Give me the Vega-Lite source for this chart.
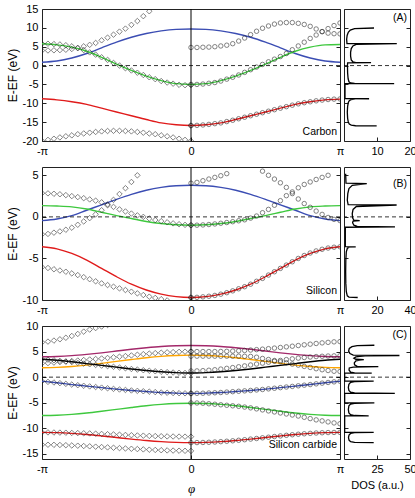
{
"$schema": "https://vega.github.io/schema/vega-lite/v6.json",
"padding": {"left": 5, "top": 2, "right": 0, "bottom": 0},
"bounds": "flush",
"columns": 2,
"spacing": {"row": 26, "column": 4},
"resolve": {"scale": {"color": "independent"}},
"config": {
 "view": {"stroke": "#222", "strokeWidth": 1},
 "font": "Liberation Sans",
 "axis": {"domain": false, "grid": false, "tickSize": -4, "tickColor": "#222", "labelPadding": 8, "labelFontSize": 11, "labelColor": "#000", "labelFont": "Liberation Sans", "titleFont": "Liberation Sans", "titleFontSize": 12, "titleFontWeight": "normal", "titleColor": "#000", "labelFlush": false, "labelOverlap": false, "labelBound": false, "titlePadding": 3},
 "text": {"font": "Liberation Sans", "fontSize": 10.5, "color": "#000"}
},
"datasets": {
 "lA": [
  {"x":-1,"y":0.9,"s":"1"},{"x":-0.9,"y":1.2,"s":"1"},{"x":-0.8,"y":2.0,"s":"1"},{"x":-0.7,"y":3.2,"s":"1"},{"x":-0.6,"y":4.7,"s":"1"},{"x":-0.5,"y":6.2,"s":"1"},{"x":-0.4,"y":7.5,"s":"1"},{"x":-0.3,"y":8.5,"s":"1"},{"x":-0.2,"y":9.2,"s":"1"},{"x":-0.1,"y":9.6,"s":"1"},{"x":0,"y":9.7,"s":"1"},{"x":0.1,"y":9.6,"s":"1"},{"x":0.2,"y":9.2,"s":"1"},{"x":0.3,"y":8.5,"s":"1"},{"x":0.4,"y":7.5,"s":"1"},{"x":0.5,"y":6.2,"s":"1"},{"x":0.6,"y":4.7,"s":"1"},{"x":0.7,"y":3.2,"s":"1"},{"x":0.8,"y":2.0,"s":"1"},{"x":0.9,"y":1.2,"s":"1"},{"x":1,"y":0.9,"s":"1"},
  {"x":-1,"y":5.8,"s":"2"},{"x":-0.9,"y":5.5,"s":"2"},{"x":-0.8,"y":4.9,"s":"2"},{"x":-0.7,"y":3.8,"s":"2"},{"x":-0.6,"y":2.2,"s":"2"},{"x":-0.5,"y":0.4,"s":"2"},{"x":-0.4,"y":-1.3,"s":"2"},{"x":-0.3,"y":-2.8,"s":"2"},{"x":-0.2,"y":-4.0,"s":"2"},{"x":-0.1,"y":-4.8,"s":"2"},{"x":0,"y":-5.0,"s":"2"},{"x":0.1,"y":-4.8,"s":"2"},{"x":0.2,"y":-4.0,"s":"2"},{"x":0.3,"y":-2.8,"s":"2"},{"x":0.4,"y":-1.3,"s":"2"},{"x":0.5,"y":0.4,"s":"2"},{"x":0.6,"y":2.2,"s":"2"},{"x":0.7,"y":3.8,"s":"2"},{"x":0.8,"y":4.9,"s":"2"},{"x":0.9,"y":5.5,"s":"2"},{"x":1,"y":5.6,"s":"2"},
  {"x":-1,"y":-8.8,"s":"3"},{"x":-0.9,"y":-9.1,"s":"3"},{"x":-0.8,"y":-9.6,"s":"3"},{"x":-0.7,"y":-10.3,"s":"3"},{"x":-0.6,"y":-11.3,"s":"3"},{"x":-0.5,"y":-12.3,"s":"3"},{"x":-0.4,"y":-13.3,"s":"3"},{"x":-0.3,"y":-14.3,"s":"3"},{"x":-0.2,"y":-15.2,"s":"3"},{"x":-0.1,"y":-15.7,"s":"3"},{"x":0,"y":-15.9,"s":"3"},{"x":0.1,"y":-15.7,"s":"3"},{"x":0.2,"y":-15.2,"s":"3"},{"x":0.3,"y":-14.3,"s":"3"},{"x":0.4,"y":-13.3,"s":"3"},{"x":0.5,"y":-12.3,"s":"3"},{"x":0.6,"y":-11.3,"s":"3"},{"x":0.7,"y":-10.3,"s":"3"},{"x":0.8,"y":-9.6,"s":"3"},{"x":0.9,"y":-9.1,"s":"3"},{"x":1,"y":-8.9,"s":"3"}
 ],
 "dA": [
  {"x":-1,"y":4.0},{"x":-0.96,"y":4.0},{"x":-0.92,"y":4.05},{"x":-0.88,"y":4.1},{"x":-0.84,"y":4.2},{"x":-0.8,"y":4.4},{"x":-0.76,"y":4.7},{"x":-0.72,"y":5.1},{"x":-0.68,"y":5.5},{"x":-0.64,"y":6.0},{"x":-0.6,"y":6.7},{"x":-0.56,"y":7.4},{"x":-0.52,"y":8.2},{"x":-0.48,"y":9.0},{"x":-0.44,"y":9.8},{"x":-0.4,"y":10.8},{"x":-0.36,"y":11.8},{"x":-0.32,"y":13.1},{"x":-0.28,"y":14.4},{"x":-0.24,"y":15.7},
  {"x":-1,"y":5.8},{"x":-0.96,"y":5.8},{"x":-0.92,"y":5.7},{"x":-0.88,"y":5.6},{"x":-0.84,"y":5.4},{"x":-0.8,"y":5.1},{"x":-0.76,"y":4.6},{"x":-0.72,"y":4.1},{"x":-0.68,"y":3.5},{"x":-0.64,"y":2.9},{"x":-0.6,"y":2.2},{"x":-0.56,"y":1.5},{"x":-0.52,"y":0.7},{"x":-0.48,"y":0.0},{"x":-0.44,"y":-0.7},{"x":-0.4,"y":-1.3},{"x":-0.36,"y":-1.9},{"x":-0.32,"y":-2.5},{"x":-0.28,"y":-3.1},{"x":-0.24,"y":-3.6},{"x":-0.2,"y":-4.1},{"x":-0.16,"y":-4.5},{"x":-0.12,"y":-4.8},{"x":-0.08,"y":-5.1},{"x":-0.04,"y":-5.2},{"x":0,"y":-5.2},
  {"x":-1,"y":-20},{"x":-0.96,"y":-19.7},{"x":-0.92,"y":-19.4},{"x":-0.88,"y":-19.05},{"x":-0.84,"y":-18.75},{"x":-0.8,"y":-18.5},{"x":-0.76,"y":-18.2},{"x":-0.72,"y":-18.0},{"x":-0.68,"y":-17.8},{"x":-0.64,"y":-17.6},{"x":-0.6,"y":-17.45},{"x":-0.56,"y":-17.35},{"x":-0.52,"y":-17.3},{"x":-0.48,"y":-17.3},{"x":-0.44,"y":-17.35},{"x":-0.4,"y":-17.45},{"x":-0.36,"y":-17.6},{"x":-0.32,"y":-17.8},{"x":-0.28,"y":-18.0},{"x":-0.24,"y":-18.2},{"x":-0.2,"y":-18.5},{"x":-0.16,"y":-18.75},{"x":-0.12,"y":-19.05},{"x":-0.08,"y":-19.4},{"x":-0.04,"y":-19.7},{"x":0,"y":-20},
  {"x":0,"y":-15.9}
 ],
 "cA": [
  {"x":0,"y":4.8},{"x":0.04,"y":4.8},{"x":0.08,"y":4.85},{"x":0.12,"y":4.9},{"x":0.16,"y":5.0},{"x":0.2,"y":5.2},{"x":0.24,"y":5.4},{"x":0.28,"y":5.8},{"x":0.32,"y":6.5},{"x":0.36,"y":7.3},{"x":0.4,"y":8.2},{"x":0.44,"y":9.1},{"x":0.48,"y":9.9},{"x":0.52,"y":10.5},{"x":0.56,"y":11.0},{"x":0.6,"y":11.3},{"x":0.64,"y":11.4},{"x":0.68,"y":11.4},{"x":0.72,"y":11.2},{"x":0.76,"y":10.9},{"x":0.8,"y":10.4},{"x":0.84,"y":9.7},{"x":0.88,"y":9.0},{"x":0.92,"y":8.6},{"x":0.96,"y":8.45},{"x":1,"y":8.4},
  {"x":0,"y":-5.0},{"x":0.04,"y":-5.0},{"x":0.08,"y":-4.9},{"x":0.12,"y":-4.7},{"x":0.16,"y":-4.5},{"x":0.2,"y":-4.1},{"x":0.24,"y":-3.6},{"x":0.28,"y":-3.1},{"x":0.32,"y":-2.5},{"x":0.36,"y":-1.8},{"x":0.4,"y":-1.1},{"x":0.44,"y":-0.4},{"x":0.48,"y":0.3},{"x":0.52,"y":1.0},{"x":0.56,"y":1.7},{"x":0.6,"y":2.4},{"x":0.64,"y":3.2},{"x":0.68,"y":4.2},{"x":0.72,"y":5.2},{"x":0.76,"y":6.2},{"x":0.8,"y":7.2},{"x":0.84,"y":8.1},{"x":0.88,"y":9.0},{"x":0.92,"y":9.8},{"x":0.96,"y":10.6},{"x":1,"y":11.3},
  {"x":0,"y":-15.9},{"x":0.04,"y":-15.85},{"x":0.08,"y":-15.75},{"x":0.12,"y":-15.6},{"x":0.16,"y":-15.4},{"x":0.2,"y":-15.2},{"x":0.24,"y":-14.85},{"x":0.28,"y":-14.5},{"x":0.32,"y":-14.1},{"x":0.36,"y":-13.7},{"x":0.4,"y":-13.3},{"x":0.44,"y":-12.9},{"x":0.48,"y":-12.5},{"x":0.52,"y":-12.1},{"x":0.56,"y":-11.7},{"x":0.6,"y":-11.3},{"x":0.64,"y":-10.9},{"x":0.68,"y":-10.5},{"x":0.72,"y":-10.15},{"x":0.76,"y":-9.85},{"x":0.8,"y":-9.6},{"x":0.84,"y":-9.35},{"x":0.88,"y":-9.15},{"x":0.92,"y":-9.0},{"x":0.96,"y":-8.9},{"x":1,"y":-8.85}
 ],
 "sA": [
  {"e":-16.0,"d":9.9},{"e":-15.95,"d":3.5},{"e":-15.8,"d":2.2},{"e":-15.5,"d":1.6},{"e":-15.0,"d":1.3},{"e":-14.0,"d":1.1},{"e":-12.4,"d":1.0},{"e":-10.8,"d":1.1},{"e":-9.8,"d":1.3},{"e":-9.3,"d":1.6},{"e":-9.0,"d":2.2},{"e":-8.85,"d":3.5},{"e":-8.8,"d":7.6},{"e":-8.79,"d":0.3},{"e":-4.81,"d":0.3},{"e":-4.8,"d":15.2},{"e":-4.75,"d":3.2},{"e":-4.6,"d":2.0},{"e":-4.3,"d":1.5},{"e":-3.5,"d":1.25},{"e":-2.0,"d":1.1},{"e":0.0,"d":1.05},{"e":0.7,"d":1.1},{"e":0.76,"d":8.2},{"e":0.8,"d":3.6},{"e":1.0,"d":2.7},{"e":1.5,"d":2.2},{"e":2.5,"d":2.0},{"e":3.5,"d":2.0},{"e":4.5,"d":2.2},{"e":5.2,"d":2.7},{"e":5.6,"d":3.7},{"e":5.8,"d":16.0},{"e":5.85,"d":0.9},{"e":7.0,"d":0.8},{"e":8.0,"d":0.95},{"e":8.8,"d":1.3},{"e":9.4,"d":1.9},{"e":9.8,"d":3.2},{"e":9.96,"d":9.1}
 ],
 "lB": [
  {"x":-1,"y":-0.45,"s":"1"},{"x":-0.9,"y":-0.25,"s":"1"},{"x":-0.8,"y":0.15,"s":"1"},{"x":-0.7,"y":0.8,"s":"1"},{"x":-0.6,"y":1.45,"s":"1"},{"x":-0.5,"y":2.1,"s":"1"},{"x":-0.4,"y":2.7,"s":"1"},{"x":-0.3,"y":3.2,"s":"1"},{"x":-0.2,"y":3.55,"s":"1"},{"x":-0.1,"y":3.75,"s":"1"},{"x":0,"y":3.8,"s":"1"},{"x":0.1,"y":3.75,"s":"1"},{"x":0.2,"y":3.55,"s":"1"},{"x":0.3,"y":3.2,"s":"1"},{"x":0.4,"y":2.7,"s":"1"},{"x":0.5,"y":2.1,"s":"1"},{"x":0.6,"y":1.45,"s":"1"},{"x":0.7,"y":0.8,"s":"1"},{"x":0.8,"y":0.15,"s":"1"},{"x":0.9,"y":-0.25,"s":"1"},{"x":1,"y":-0.45,"s":"1"},
  {"x":-1,"y":1.35,"s":"2"},{"x":-0.9,"y":1.3,"s":"2"},{"x":-0.8,"y":1.2,"s":"2"},{"x":-0.7,"y":0.95,"s":"2"},{"x":-0.6,"y":0.55,"s":"2"},{"x":-0.5,"y":0.15,"s":"2"},{"x":-0.4,"y":-0.2,"s":"2"},{"x":-0.3,"y":-0.55,"s":"2"},{"x":-0.2,"y":-0.8,"s":"2"},{"x":-0.1,"y":-0.95,"s":"2"},{"x":0,"y":-1.0,"s":"2"},{"x":0.1,"y":-0.95,"s":"2"},{"x":0.2,"y":-0.8,"s":"2"},{"x":0.3,"y":-0.55,"s":"2"},{"x":0.4,"y":-0.2,"s":"2"},{"x":0.5,"y":0.15,"s":"2"},{"x":0.6,"y":0.55,"s":"2"},{"x":0.7,"y":0.95,"s":"2"},{"x":0.8,"y":1.2,"s":"2"},{"x":0.9,"y":1.3,"s":"2"},{"x":1,"y":1.35,"s":"2"},
  {"x":-1,"y":-3.6,"s":"3"},{"x":-0.9,"y":-3.85,"s":"3"},{"x":-0.8,"y":-4.4,"s":"3"},{"x":-0.7,"y":-5.2,"s":"3"},{"x":-0.6,"y":-6.2,"s":"3"},{"x":-0.5,"y":-7.2,"s":"3"},{"x":-0.4,"y":-8.1,"s":"3"},{"x":-0.3,"y":-8.8,"s":"3"},{"x":-0.2,"y":-9.3,"s":"3"},{"x":-0.1,"y":-9.6,"s":"3"},{"x":0,"y":-9.7,"s":"3"},{"x":0.1,"y":-9.6,"s":"3"},{"x":0.2,"y":-9.3,"s":"3"},{"x":0.3,"y":-8.8,"s":"3"},{"x":0.4,"y":-8.1,"s":"3"},{"x":0.5,"y":-7.2,"s":"3"},{"x":0.6,"y":-6.2,"s":"3"},{"x":0.7,"y":-5.2,"s":"3"},{"x":0.8,"y":-4.4,"s":"3"},{"x":0.9,"y":-3.85,"s":"3"},{"x":1,"y":-3.6,"s":"3"}
 ],
 "dB": [
  {"x":-1,"y":2.85},{"x":-0.96,"y":2.83},{"x":-0.92,"y":2.78},{"x":-0.88,"y":2.72},{"x":-0.84,"y":2.62},{"x":-0.8,"y":2.5},{"x":-0.76,"y":2.38},{"x":-0.72,"y":2.25},{"x":-0.68,"y":2.1},{"x":-0.64,"y":1.95},{"x":-0.6,"y":1.75},{"x":-0.56,"y":1.5},{"x":-0.52,"y":1.2},{"x":-0.48,"y":0.9},{"x":-0.44,"y":0.65},{"x":-0.4,"y":0.4},{"x":-0.36,"y":0.18},{"x":-0.32,"y":0.0},{"x":-0.28,"y":-0.2},{"x":-0.24,"y":-0.38},{"x":-0.2,"y":-0.52},{"x":-0.16,"y":-0.65},{"x":-0.12,"y":-0.78},{"x":-0.08,"y":-0.88},{"x":-0.04,"y":-0.96},{"x":0,"y":-1.0},
  {"x":-1,"y":-2.1},{"x":-0.96,"y":-2.05},{"x":-0.92,"y":-1.9},{"x":-0.88,"y":-1.75},{"x":-0.84,"y":-1.55},{"x":-0.8,"y":-1.3},{"x":-0.76,"y":-0.95},{"x":-0.72,"y":-0.55},{"x":-0.68,"y":-0.15},{"x":-0.64,"y":0.3},{"x":-0.6,"y":0.8},{"x":-0.56,"y":1.4},{"x":-0.52,"y":2.05},{"x":-0.48,"y":2.75},{"x":-0.44,"y":3.45},{"x":-0.4,"y":4.2},{"x":-0.36,"y":5.0},
  {"x":-1,"y":-6.05},{"x":-0.96,"y":-6.15},{"x":-0.92,"y":-6.3},{"x":-0.88,"y":-6.45},{"x":-0.84,"y":-6.6},{"x":-0.8,"y":-6.8},{"x":-0.76,"y":-7.0},{"x":-0.72,"y":-7.25},{"x":-0.68,"y":-7.5},{"x":-0.64,"y":-7.75},{"x":-0.6,"y":-8.0},{"x":-0.56,"y":-8.2},{"x":-0.52,"y":-8.4},{"x":-0.48,"y":-8.6},{"x":-0.44,"y":-8.8},{"x":-0.4,"y":-9.0},{"x":-0.36,"y":-9.2},{"x":-0.32,"y":-9.4},{"x":-0.28,"y":-9.6},{"x":-0.24,"y":-9.75},{"x":-0.2,"y":-9.9},{"x":-0.16,"y":-10.05},
  {"x":0,"y":-9.7}
 ],
 "cB": [
  {"x":0,"y":4.05},{"x":0.04,"y":4.15},{"x":0.08,"y":4.35},{"x":0.12,"y":4.55},{"x":0.16,"y":4.75},{"x":0.2,"y":4.95},{"x":0.24,"y":5.2},
  {"x":0.48,"y":5.5},{"x":0.52,"y":5.0},{"x":0.56,"y":4.55},{"x":0.6,"y":4.1},{"x":0.64,"y":3.55},{"x":0.68,"y":2.8},{"x":0.72,"y":2.15},{"x":0.76,"y":1.6},{"x":0.8,"y":1.15},{"x":0.84,"y":0.7},{"x":0.88,"y":0.3},{"x":0.92,"y":-0.07},{"x":0.96,"y":-0.3},{"x":1,"y":-0.45},
  {"x":0,"y":-1.0},{"x":0.04,"y":-1.0},{"x":0.08,"y":-0.97},{"x":0.12,"y":-0.92},{"x":0.16,"y":-0.85},{"x":0.2,"y":-0.77},{"x":0.24,"y":-0.68},{"x":0.28,"y":-0.58},{"x":0.32,"y":-0.47},{"x":0.36,"y":-0.35},{"x":0.4,"y":-0.15},{"x":0.44,"y":0.1},{"x":0.48,"y":0.5},{"x":0.52,"y":0.9},{"x":0.56,"y":1.4},{"x":0.6,"y":1.95},{"x":0.64,"y":2.55},{"x":0.68,"y":3.0},{"x":0.72,"y":3.5},{"x":0.76,"y":3.9},{"x":0.8,"y":4.2},{"x":0.84,"y":4.5},{"x":0.88,"y":4.75},{"x":0.92,"y":5.0},
  {"x":0,"y":-9.7},{"x":0.04,"y":-9.68},{"x":0.08,"y":-9.62},{"x":0.12,"y":-9.55},{"x":0.16,"y":-9.45},{"x":0.2,"y":-9.3},{"x":0.24,"y":-9.12},{"x":0.28,"y":-8.9},{"x":0.32,"y":-8.65},{"x":0.36,"y":-8.4},{"x":0.4,"y":-8.1},{"x":0.44,"y":-7.75},{"x":0.48,"y":-7.4},{"x":0.52,"y":-7.0},{"x":0.56,"y":-6.6},{"x":0.6,"y":-6.2},{"x":0.64,"y":-5.8},{"x":0.68,"y":-5.4},{"x":0.72,"y":-5.0},{"x":0.76,"y":-4.65},{"x":0.8,"y":-4.35},{"x":0.84,"y":-4.1},{"x":0.88,"y":-3.9},{"x":0.92,"y":-3.75},{"x":0.96,"y":-3.65},{"x":1,"y":-3.6}
 ],
 "sB": [
  {"e":-9.7,"d":8.3},{"e":-9.65,"d":3.0},{"e":-9.5,"d":2.0},{"e":-9.0,"d":1.4},{"e":-8.0,"d":1.1},{"e":-6.6,"d":1.0},{"e":-5.2,"d":1.1},{"e":-4.2,"d":1.4},{"e":-3.8,"d":2.0},{"e":-3.65,"d":3.0},{"e":-3.6,"d":7.1},{"e":-3.59,"d":0.8},{"e":-1.25,"d":0.8},{"e":-1.2,"d":30.9},{"e":-1.15,"d":8.0},{"e":-1.0,"d":6.0},{"e":-0.7,"d":5.2},{"e":-0.5,"d":5.5},{"e":-0.45,"d":9.5},{"e":-0.4,"d":6.0},{"e":-0.1,"d":5.2},{"e":0.4,"d":5.0},{"e":0.9,"d":5.5},{"e":1.25,"d":7.5},{"e":1.43,"d":31.9},{"e":1.48,"d":2.5},{"e":2.0,"d":2.0},{"e":2.8,"d":2.3},{"e":3.4,"d":3.0},{"e":3.8,"d":5.0},{"e":3.99,"d":13.8},{"e":4.05,"d":1.2},{"e":5.2,"d":1.0}
 ],
 "lC": [
  {"x":-1,"y":4.0,"s":"1"},{"x":-0.9,"y":4.05,"s":"1"},{"x":-0.8,"y":4.2,"s":"1"},{"x":-0.7,"y":4.45,"s":"1"},{"x":-0.6,"y":4.75,"s":"1"},{"x":-0.5,"y":5.1,"s":"1"},{"x":-0.4,"y":5.45,"s":"1"},{"x":-0.3,"y":5.75,"s":"1"},{"x":-0.2,"y":6.0,"s":"1"},{"x":-0.1,"y":6.15,"s":"1"},{"x":0,"y":6.2,"s":"1"},{"x":0.1,"y":6.15,"s":"1"},{"x":0.2,"y":6.0,"s":"1"},{"x":0.3,"y":5.75,"s":"1"},{"x":0.4,"y":5.45,"s":"1"},{"x":0.5,"y":5.1,"s":"1"},{"x":0.6,"y":4.75,"s":"1"},{"x":0.7,"y":4.45,"s":"1"},{"x":0.8,"y":4.2,"s":"1"},{"x":0.9,"y":4.05,"s":"1"},{"x":1,"y":4.0,"s":"1"},
  {"x":-1,"y":1.85,"s":"2"},{"x":-0.9,"y":1.91,"s":"2"},{"x":-0.8,"y":2.08,"s":"2"},{"x":-0.7,"y":2.35,"s":"2"},{"x":-0.6,"y":2.7,"s":"2"},{"x":-0.5,"y":3.08,"s":"2"},{"x":-0.4,"y":3.45,"s":"2"},{"x":-0.3,"y":3.8,"s":"2"},{"x":-0.2,"y":4.07,"s":"2"},{"x":-0.1,"y":4.24,"s":"2"},{"x":0,"y":4.3,"s":"2"},{"x":0.1,"y":4.24,"s":"2"},{"x":0.2,"y":4.07,"s":"2"},{"x":0.3,"y":3.8,"s":"2"},{"x":0.4,"y":3.45,"s":"2"},{"x":0.5,"y":3.08,"s":"2"},{"x":0.6,"y":2.7,"s":"2"},{"x":0.7,"y":2.35,"s":"2"},{"x":0.8,"y":2.08,"s":"2"},{"x":0.9,"y":1.91,"s":"2"},{"x":1,"y":1.85,"s":"2"},
  {"x":-1,"y":3.5,"s":"3"},{"x":-0.9,"y":3.3,"s":"3"},{"x":-0.8,"y":3.0,"s":"3"},{"x":-0.7,"y":2.65,"s":"3"},{"x":-0.6,"y":2.3,"s":"3"},{"x":-0.5,"y":1.95,"s":"3"},{"x":-0.4,"y":1.6,"s":"3"},{"x":-0.3,"y":1.3,"s":"3"},{"x":-0.2,"y":1.05,"s":"3"},{"x":-0.1,"y":0.88,"s":"3"},{"x":0,"y":0.8,"s":"3"},{"x":0.1,"y":0.88,"s":"3"},{"x":0.2,"y":1.05,"s":"3"},{"x":0.3,"y":1.3,"s":"3"},{"x":0.4,"y":1.6,"s":"3"},{"x":0.5,"y":1.95,"s":"3"},{"x":0.6,"y":2.3,"s":"3"},{"x":0.7,"y":2.65,"s":"3"},{"x":0.8,"y":3.0,"s":"3"},{"x":0.9,"y":3.3,"s":"3"},{"x":1,"y":3.5,"s":"3"},
  {"x":-1,"y":-0.8,"s":"4"},{"x":-0.9,"y":-1.1,"s":"4"},{"x":-0.8,"y":-1.45,"s":"4"},{"x":-0.7,"y":-1.75,"s":"4"},{"x":-0.6,"y":-2.05,"s":"4"},{"x":-0.5,"y":-2.35,"s":"4"},{"x":-0.4,"y":-2.6,"s":"4"},{"x":-0.3,"y":-2.8,"s":"4"},{"x":-0.2,"y":-3.0,"s":"4"},{"x":-0.1,"y":-3.12,"s":"4"},{"x":0,"y":-3.18,"s":"4"},{"x":0.1,"y":-3.12,"s":"4"},{"x":0.2,"y":-3.0,"s":"4"},{"x":0.3,"y":-2.8,"s":"4"},{"x":0.4,"y":-2.6,"s":"4"},{"x":0.5,"y":-2.35,"s":"4"},{"x":0.6,"y":-2.05,"s":"4"},{"x":0.7,"y":-1.75,"s":"4"},{"x":0.8,"y":-1.45,"s":"4"},{"x":0.9,"y":-1.1,"s":"4"},{"x":1,"y":-0.8,"s":"4"},
  {"x":-1,"y":-7.5,"s":"5"},{"x":-0.9,"y":-7.44,"s":"5"},{"x":-0.8,"y":-7.27,"s":"5"},{"x":-0.7,"y":-7.01,"s":"5"},{"x":-0.6,"y":-6.67,"s":"5"},{"x":-0.5,"y":-6.3,"s":"5"},{"x":-0.4,"y":-5.93,"s":"5"},{"x":-0.3,"y":-5.59,"s":"5"},{"x":-0.2,"y":-5.33,"s":"5"},{"x":-0.1,"y":-5.16,"s":"5"},{"x":0,"y":-5.1,"s":"5"},{"x":0.1,"y":-5.16,"s":"5"},{"x":0.2,"y":-5.33,"s":"5"},{"x":0.3,"y":-5.59,"s":"5"},{"x":0.4,"y":-5.93,"s":"5"},{"x":0.5,"y":-6.3,"s":"5"},{"x":0.6,"y":-6.67,"s":"5"},{"x":0.7,"y":-7.01,"s":"5"},{"x":0.8,"y":-7.27,"s":"5"},{"x":0.9,"y":-7.44,"s":"5"},{"x":1,"y":-7.5,"s":"5"},
  {"x":-1,"y":-10.8,"s":"6"},{"x":-0.9,"y":-10.85,"s":"6"},{"x":-0.8,"y":-10.99,"s":"6"},{"x":-0.7,"y":-11.21,"s":"6"},{"x":-0.6,"y":-11.49,"s":"6"},{"x":-0.5,"y":-11.8,"s":"6"},{"x":-0.4,"y":-12.11,"s":"6"},{"x":-0.3,"y":-12.39,"s":"6"},{"x":-0.2,"y":-12.61,"s":"6"},{"x":-0.1,"y":-12.75,"s":"6"},{"x":0,"y":-12.8,"s":"6"},{"x":0.1,"y":-12.75,"s":"6"},{"x":0.2,"y":-12.61,"s":"6"},{"x":0.3,"y":-12.39,"s":"6"},{"x":0.4,"y":-12.11,"s":"6"},{"x":0.5,"y":-11.8,"s":"6"},{"x":0.6,"y":-11.49,"s":"6"},{"x":0.7,"y":-11.21,"s":"6"},{"x":0.8,"y":-10.99,"s":"6"},{"x":0.9,"y":-10.85,"s":"6"},{"x":1,"y":-10.8,"s":"6"}
 ],
 "dC": [
  {"x":-1,"y":6.8},{"x":-0.96,"y":6.95},{"x":-0.92,"y":7.15},{"x":-0.88,"y":7.4},{"x":-0.84,"y":7.7},{"x":-0.8,"y":8.05},{"x":-0.76,"y":8.45},{"x":-0.72,"y":8.9},{"x":-0.68,"y":9.3},{"x":-0.64,"y":9.6},{"x":-0.6,"y":9.9},{"x":-0.56,"y":10.2},
  {"x":-1,"y":2.7},{"x":-0.96,"y":2.75},{"x":-0.92,"y":2.85},{"x":-0.88,"y":2.95},{"x":-0.84,"y":3.05},{"x":-0.8,"y":3.15},{"x":-0.76,"y":3.25},{"x":-0.72,"y":3.35},{"x":-0.68,"y":3.45},{"x":-0.64,"y":3.55},{"x":-0.6,"y":3.65},{"x":-0.56,"y":3.75},{"x":-0.52,"y":3.88},{"x":-0.48,"y":4.0},{"x":-0.44,"y":4.12},{"x":-0.4,"y":4.25},{"x":-0.36,"y":4.38},{"x":-0.32,"y":4.5},{"x":-0.28,"y":4.6},{"x":-0.24,"y":4.7},{"x":-0.2,"y":4.78},{"x":-0.16,"y":4.85},{"x":-0.12,"y":4.9},{"x":-0.08,"y":4.95},{"x":-0.04,"y":4.98},{"x":0,"y":5.0},
  {"x":-1,"y":3.5},{"x":-0.96,"y":3.42},{"x":-0.92,"y":3.3},{"x":-0.88,"y":3.18},{"x":-0.84,"y":3.06},{"x":-0.8,"y":2.95},{"x":-0.76,"y":2.8},{"x":-0.72,"y":2.66},{"x":-0.68,"y":2.52},{"x":-0.64,"y":2.38},{"x":-0.6,"y":2.26},{"x":-0.56,"y":2.16},{"x":-0.52,"y":2.02},{"x":-0.48,"y":1.88},{"x":-0.44,"y":1.74},{"x":-0.4,"y":1.6},{"x":-0.36,"y":1.48},{"x":-0.32,"y":1.36},{"x":-0.28,"y":1.25},{"x":-0.24,"y":1.15},{"x":-0.2,"y":1.05},{"x":-0.16,"y":0.98},{"x":-0.12,"y":0.91},{"x":-0.08,"y":0.86},{"x":-0.04,"y":0.82},{"x":0,"y":0.8},
  {"x":-1,"y":-0.8},{"x":-0.96,"y":-0.92},{"x":-0.92,"y":-1.04},{"x":-0.88,"y":-1.17},{"x":-0.84,"y":-1.31},{"x":-0.8,"y":-1.45},{"x":-0.76,"y":-1.57},{"x":-0.72,"y":-1.69},{"x":-0.68,"y":-1.81},{"x":-0.64,"y":-1.93},{"x":-0.6,"y":-2.05},{"x":-0.56,"y":-2.17},{"x":-0.52,"y":-2.29},{"x":-0.48,"y":-2.41},{"x":-0.44,"y":-2.5},{"x":-0.4,"y":-2.6},{"x":-0.36,"y":-2.68},{"x":-0.32,"y":-2.76},{"x":-0.28,"y":-2.84},{"x":-0.24,"y":-2.92},{"x":-0.2,"y":-3.0},{"x":-0.16,"y":-3.05},{"x":-0.12,"y":-3.1},{"x":-0.08,"y":-3.14},{"x":-0.04,"y":-3.16},{"x":0,"y":-3.18},
  {"x":-1,"y":-10.8},{"x":-0.96,"y":-10.8},{"x":-0.92,"y":-10.82},{"x":-0.88,"y":-10.84},{"x":-0.84,"y":-10.86},{"x":-0.8,"y":-10.9},{"x":-0.76,"y":-10.93},{"x":-0.72,"y":-10.97},{"x":-0.68,"y":-11.0},{"x":-0.64,"y":-11.05},{"x":-0.6,"y":-11.1},{"x":-0.56,"y":-11.15},{"x":-0.52,"y":-11.2},{"x":-0.48,"y":-11.25},{"x":-0.44,"y":-11.3},{"x":-0.4,"y":-11.35},{"x":-0.36,"y":-11.4},{"x":-0.32,"y":-11.44},{"x":-0.28,"y":-11.48},{"x":-0.24,"y":-11.52},{"x":-0.2,"y":-11.55},{"x":-0.16,"y":-11.58},{"x":-0.12,"y":-11.6},{"x":-0.08,"y":-11.62},{"x":-0.04,"y":-11.63},{"x":0,"y":-11.64},
  {"x":-1,"y":-13.2},{"x":-0.96,"y":-13.21},{"x":-0.92,"y":-13.23},{"x":-0.88,"y":-13.26},{"x":-0.84,"y":-13.3},{"x":-0.8,"y":-13.35},{"x":-0.76,"y":-13.4},{"x":-0.72,"y":-13.46},{"x":-0.68,"y":-13.52},{"x":-0.64,"y":-13.59},{"x":-0.6,"y":-13.66},{"x":-0.56,"y":-13.73},{"x":-0.52,"y":-13.8},{"x":-0.48,"y":-13.87},{"x":-0.44,"y":-13.94},{"x":-0.4,"y":-14.0},{"x":-0.36,"y":-14.06},{"x":-0.32,"y":-14.12},{"x":-0.28,"y":-14.18},{"x":-0.24,"y":-14.23},{"x":-0.2,"y":-14.28},{"x":-0.16,"y":-14.32},{"x":-0.12,"y":-14.35},{"x":-0.08,"y":-14.38},{"x":-0.04,"y":-14.4},{"x":0,"y":-14.42}
 ],
 "cC": [
  {"x":0,"y":5.0},{"x":0.04,"y":5.0},{"x":0.08,"y":5.0},{"x":0.12,"y":5.0},{"x":0.16,"y":5.0},{"x":0.2,"y":5.02},{"x":0.24,"y":5.05},{"x":0.28,"y":5.1},{"x":0.32,"y":5.15},{"x":0.36,"y":5.22},{"x":0.4,"y":5.3},{"x":0.44,"y":5.38},{"x":0.48,"y":5.47},{"x":0.52,"y":5.57},{"x":0.56,"y":5.68},{"x":0.6,"y":5.8},{"x":0.64,"y":5.92},{"x":0.68,"y":6.05},{"x":0.72,"y":6.18},{"x":0.76,"y":6.32},{"x":0.8,"y":6.45},{"x":0.84,"y":6.58},{"x":0.88,"y":6.7},{"x":0.92,"y":6.8},{"x":0.96,"y":6.9},{"x":1,"y":6.95},
  {"x":0,"y":4.1},{"x":0.04,"y":4.1},{"x":0.08,"y":4.1},{"x":0.12,"y":4.1},{"x":0.16,"y":4.1},{"x":0.2,"y":4.1},{"x":0.24,"y":4.1},{"x":0.28,"y":4.1},{"x":0.32,"y":4.1},{"x":0.36,"y":4.08},{"x":0.4,"y":4.05},{"x":0.44,"y":3.9},{"x":0.48,"y":3.65},{"x":0.52,"y":3.45},{"x":0.56,"y":3.25},{"x":0.6,"y":3.0},{"x":0.64,"y":2.8},{"x":0.68,"y":2.55},{"x":0.72,"y":2.35},{"x":0.76,"y":2.1},{"x":0.8,"y":1.9},{"x":0.84,"y":1.65},{"x":0.88,"y":1.45},{"x":0.92,"y":1.3},{"x":0.96,"y":1.15},{"x":1,"y":1.1},
  {"x":0,"y":1.2},{"x":0.04,"y":1.22},{"x":0.08,"y":1.27},{"x":0.12,"y":1.35},{"x":0.16,"y":1.45},{"x":0.2,"y":1.58},{"x":0.24,"y":1.72},{"x":0.28,"y":1.87},{"x":0.32,"y":2.03},{"x":0.36,"y":2.2},{"x":0.4,"y":2.38},{"x":0.44,"y":2.56},{"x":0.48,"y":2.74},{"x":0.52,"y":2.92},{"x":0.56,"y":3.1},{"x":0.6,"y":3.27},{"x":0.64,"y":3.43},{"x":0.68,"y":3.58},{"x":0.72,"y":3.72},{"x":0.76,"y":3.84},{"x":0.8,"y":3.94},{"x":0.84,"y":4.02},{"x":0.88,"y":4.08},{"x":0.92,"y":4.13},{"x":0.96,"y":4.16},{"x":1,"y":4.18},
  {"x":0,"y":-3.18},{"x":0.04,"y":-3.16},{"x":0.08,"y":-3.14},{"x":0.12,"y":-3.1},{"x":0.16,"y":-3.05},{"x":0.2,"y":-3.0},{"x":0.24,"y":-2.92},{"x":0.28,"y":-2.84},{"x":0.32,"y":-2.76},{"x":0.36,"y":-2.68},{"x":0.4,"y":-2.6},{"x":0.44,"y":-2.5},{"x":0.48,"y":-2.41},{"x":0.52,"y":-2.29},{"x":0.56,"y":-2.17},{"x":0.6,"y":-2.05},{"x":0.64,"y":-1.93},{"x":0.68,"y":-1.81},{"x":0.72,"y":-1.69},{"x":0.76,"y":-1.57},{"x":0.8,"y":-1.45},{"x":0.84,"y":-1.31},{"x":0.88,"y":-1.17},{"x":0.92,"y":-1.04},{"x":0.96,"y":-0.92},{"x":1,"y":-0.8},
  {"x":0,"y":-5.05},{"x":0.04,"y":-5.05},{"x":0.08,"y":-5.1},{"x":0.12,"y":-5.2},{"x":0.16,"y":-5.3},{"x":0.2,"y":-5.4},{"x":0.24,"y":-5.5},{"x":0.28,"y":-5.6},{"x":0.32,"y":-5.7},{"x":0.36,"y":-5.85},{"x":0.4,"y":-6.0},{"x":0.44,"y":-6.2},{"x":0.48,"y":-6.4},{"x":0.52,"y":-6.6},{"x":0.56,"y":-6.8},{"x":0.6,"y":-7.0},{"x":0.64,"y":-7.2},{"x":0.68,"y":-7.4},{"x":0.72,"y":-7.6},{"x":0.76,"y":-7.85},{"x":0.8,"y":-8.1},{"x":0.84,"y":-8.35},{"x":0.88,"y":-8.55},{"x":0.92,"y":-8.75},{"x":0.96,"y":-8.95},{"x":1,"y":-9.1},
  {"x":0,"y":-12.8},{"x":0.04,"y":-12.79},{"x":0.08,"y":-12.77},{"x":0.12,"y":-12.73},{"x":0.16,"y":-12.68},{"x":0.2,"y":-12.61},{"x":0.24,"y":-12.53},{"x":0.28,"y":-12.44},{"x":0.32,"y":-12.34},{"x":0.36,"y":-12.23},{"x":0.4,"y":-12.11},{"x":0.44,"y":-11.99},{"x":0.48,"y":-11.86},{"x":0.52,"y":-11.74},{"x":0.56,"y":-11.61},{"x":0.6,"y":-11.49},{"x":0.64,"y":-11.37},{"x":0.68,"y":-11.26},{"x":0.72,"y":-11.16},{"x":0.76,"y":-11.07},{"x":0.8,"y":-10.99},{"x":0.84,"y":-10.92},{"x":0.88,"y":-10.87},{"x":0.92,"y":-10.83},{"x":0.96,"y":-10.81},{"x":1,"y":-10.8}
 ],
 "sC": [
  {"e":-12.8,"d":22.5},{"e":-12.75,"d":8},{"e":-12.6,"d":5},{"e":-12.3,"d":3.8},{"e":-11.8,"d":3.4},{"e":-11.3,"d":3.8},{"e":-11.0,"d":5},{"e":-10.85,"d":8},{"e":-10.8,"d":22.5},{"e":-10.79,"d":0.5},{"e":-7.56,"d":0.5},{"e":-7.55,"d":18.7},{"e":-7.5,"d":8},{"e":-7.35,"d":5},{"e":-7.0,"d":3.7},{"e":-6.3,"d":3.3},{"e":-5.6,"d":3.7},{"e":-5.25,"d":5},{"e":-5.1,"d":8},{"e":-5.04,"d":23},{"e":-5.03,"d":0.5},{"e":-3.17,"d":0.5},{"e":-3.16,"d":38.5},{"e":-3.1,"d":8},{"e":-2.95,"d":5},{"e":-2.6,"d":3.7},{"e":-2.0,"d":3.3},{"e":-1.4,"d":3.7},{"e":-1.0,"d":5},{"e":-0.85,"d":8},{"e":-0.78,"d":22.5},{"e":-0.77,"d":0.5},{"e":0.78,"d":0.5},{"e":0.79,"d":21},{"e":0.85,"d":8},{"e":1.0,"d":5},{"e":1.4,"d":3.8},{"e":1.8,"d":4},{"e":1.95,"d":7},{"e":2.04,"d":26},{"e":2.1,"d":10},{"e":2.4,"d":8},{"e":2.8,"d":7.8},{"e":3.2,"d":9},{"e":3.35,"d":12},{"e":3.42,"d":15},{"e":3.5,"d":9},{"e":3.7,"d":7.5},{"e":3.95,"d":9},{"e":4.05,"d":12},{"e":4.15,"d":16},{"e":4.23,"d":42},{"e":4.3,"d":7},{"e":4.6,"d":4.5},{"e":5.1,"d":3.5},{"e":5.6,"d":4},{"e":5.95,"d":6},{"e":6.15,"d":10},{"e":6.24,"d":23}
 ]
},
"concat": [
  {"width": 298, "height": 132, "resolve": {"axis": {"y": "independent"}}, "layer": [
   {"data": {"name": "lA"}, "mark": {"type": "line", "interpolate": "monotone", "strokeWidth": 1.4, "clip": true},
    "encoding": {
     "x": {"field": "x", "type": "quantitative", "scale": {"domain": [-1, 1]}, "axis": {"values": [-1, 0, 1], "labelExpr": "datum.value < 0 ? '-π' : (datum.value > 0 ? 'π' : '0')", "title": null}},
     "y": {"field": "y", "type": "quantitative", "scale": {"domain": [-20, 15]}, "axis": {"values": [-20, -15, -10, -5, 0, 5, 10, 15], "labelExpr": "replace(datum.label, '−', '-')", "title": "E-EF (eV)"}},
     "color": {"field": "s", "type": "nominal", "scale": {"domain": ["1", "2", "3"], "range": ["#3b4db3", "#3ec83e", "#e01b1b"]}, "legend": null}}},
   {"data": {"name": "dA"}, "mark": {"type": "point", "shape": "diamond", "size": 30, "filled": false, "stroke": "#222", "strokeWidth": 0.8, "clip": true},
    "encoding": {"x": {"field": "x", "type": "quantitative"}, "y": {"field": "y", "type": "quantitative", "axis": null}}},
   {"data": {"name": "cA"}, "mark": {"type": "point", "shape": "circle", "size": 20, "filled": false, "stroke": "#222", "strokeWidth": 0.8, "clip": true},
    "encoding": {"x": {"field": "x", "type": "quantitative"}, "y": {"field": "y", "type": "quantitative", "axis": null}}},
   {"data": {"values": [{}]}, "mark": {"type": "rule", "color": "#000", "strokeWidth": 1}, "encoding": {"x": {"datum": 0}}},
   {"data": {"values": [{}]}, "mark": {"type": "rule", "color": "#000", "strokeWidth": 0.8, "strokeDash": [4, 3]}, "encoding": {"y": {"datum": 0, "axis": null}}},
   {"data": {"values": [{}]}, "mark": {"type": "text", "align": "right", "baseline": "bottom", "dx": -3, "dy": -4}, "encoding": {"x": {"datum": 1}, "y": {"datum": -20, "axis": null}, "text": {"value": "Carbon"}}},
   {"data": {"name": "lA"}, "mark": {"type": "point", "opacity": 0}, "encoding": {"x": {"field": "x", "type": "quantitative"}, "y": {"field": "y", "type": "quantitative", "axis": {"orient": "right", "labels": false, "title": null, "values": [-20, -15, -10, -5, 0, 5, 10, 15]}}}}
  ]},
  {"width": 66, "height": 132, "resolve": {"axis": {"y": "independent"}}, "layer": [
   {"data": {"name": "sA"}, "mark": {"type": "line", "color": "#000", "strokeWidth": 1.3, "clip": true},
    "encoding": {
     "x": {"field": "d", "type": "quantitative", "scale": {"domain": [0, 20]}, "axis": {"values": [10, 20], "title": null}},
     "y": {"field": "e", "type": "quantitative", "scale": {"domain": [-20, 15]}, "axis": {"values": [-20, -15, -10, -5, 0, 5, 10, 15], "labels": false, "title": null}},
     "order": {"field": "e", "type": "quantitative"}}},
   {"data": {"values": [{}]}, "mark": {"type": "rule", "color": "#000", "strokeWidth": 0.8, "strokeDash": [4, 3]}, "encoding": {"y": {"datum": 0, "axis": null}}},
   {"data": {"values": [{}]}, "mark": {"type": "text", "align": "right", "baseline": "top", "dx": -3, "dy": 4}, "encoding": {"x": {"datum": 20}, "y": {"datum": 15, "axis": null}, "text": {"value": "(A)"}}},
   {"data": {"name": "sA"}, "mark": {"type": "point", "opacity": 0}, "encoding": {"x": {"field": "d", "type": "quantitative"}, "y": {"field": "e", "type": "quantitative", "axis": {"orient": "right", "labels": false, "title": null, "values": [-20, -15, -10, -5, 0, 5, 10, 15]}}}}
  ]},
  {"width": 298, "height": 133, "resolve": {"axis": {"y": "independent"}}, "layer": [
   {"data": {"name": "lB"}, "mark": {"type": "line", "interpolate": "monotone", "strokeWidth": 1.4, "clip": true},
    "encoding": {
     "x": {"field": "x", "type": "quantitative", "scale": {"domain": [-1, 1]}, "axis": {"values": [-1, 0, 1], "labelExpr": "datum.value < 0 ? '-π' : (datum.value > 0 ? 'π' : '0')", "title": null}},
     "y": {"field": "y", "type": "quantitative", "scale": {"domain": [-10, 5]}, "axis": {"values": [-10, -5, 0, 5], "labelExpr": "replace(datum.label, '−', '-')", "title": "E-EF (eV)"}},
     "color": {"field": "s", "type": "nominal", "scale": {"domain": ["1", "2", "3"], "range": ["#3b4db3", "#3ec83e", "#e01b1b"]}, "legend": null}}},
   {"data": {"name": "dB"}, "mark": {"type": "point", "shape": "diamond", "size": 30, "filled": false, "stroke": "#222", "strokeWidth": 0.8, "clip": true},
    "encoding": {"x": {"field": "x", "type": "quantitative"}, "y": {"field": "y", "type": "quantitative", "axis": null}}},
   {"data": {"name": "cB"}, "mark": {"type": "point", "shape": "circle", "size": 20, "filled": false, "stroke": "#222", "strokeWidth": 0.8, "clip": true},
    "encoding": {"x": {"field": "x", "type": "quantitative"}, "y": {"field": "y", "type": "quantitative", "axis": null}}},
   {"data": {"values": [{}]}, "mark": {"type": "rule", "color": "#000", "strokeWidth": 1}, "encoding": {"x": {"datum": 0}}},
   {"data": {"values": [{}]}, "mark": {"type": "rule", "color": "#000", "strokeWidth": 0.8, "strokeDash": [4, 3]}, "encoding": {"y": {"datum": 0, "axis": null}}},
   {"data": {"values": [{}]}, "mark": {"type": "text", "align": "right", "baseline": "bottom", "dx": -3, "dy": -4}, "encoding": {"x": {"datum": 1}, "y": {"datum": -10, "axis": null}, "text": {"value": "Silicon"}}},
   {"data": {"name": "lB"}, "mark": {"type": "point", "opacity": 0}, "encoding": {"x": {"field": "x", "type": "quantitative"}, "y": {"field": "y", "type": "quantitative", "axis": {"orient": "right", "labels": false, "title": null, "values": [-10, -5, 0, 5]}}}}
  ]},
  {"width": 66, "height": 133, "resolve": {"axis": {"y": "independent"}}, "layer": [
   {"data": {"name": "sB"}, "mark": {"type": "line", "color": "#000", "strokeWidth": 1.3, "clip": true},
    "encoding": {
     "x": {"field": "d", "type": "quantitative", "scale": {"domain": [0, 40]}, "axis": {"values": [20, 40], "title": null}},
     "y": {"field": "e", "type": "quantitative", "scale": {"domain": [-10, 5]}, "axis": {"values": [-10, -5, 0, 5], "labels": false, "title": null}},
     "order": {"field": "e", "type": "quantitative"}}},
   {"data": {"values": [{}]}, "mark": {"type": "rule", "color": "#000", "strokeWidth": 0.8, "strokeDash": [4, 3]}, "encoding": {"y": {"datum": 0, "axis": null}}},
   {"data": {"values": [{}]}, "mark": {"type": "text", "align": "right", "baseline": "top", "dx": -3, "dy": 4}, "encoding": {"x": {"datum": 40}, "y": {"datum": 5, "axis": null}, "text": {"value": "(B)"}}},
   {"data": {"name": "sB"}, "mark": {"type": "point", "opacity": 0}, "encoding": {"x": {"field": "d", "type": "quantitative"}, "y": {"field": "e", "type": "quantitative", "axis": {"orient": "right", "labels": false, "title": null, "values": [-10, -5, 0, 5]}}}}
  ]},
  {"width": 298, "height": 133, "resolve": {"axis": {"y": "independent"}}, "layer": [
   {"data": {"name": "lC"}, "mark": {"type": "line", "interpolate": "monotone", "strokeWidth": 1.4, "clip": true},
    "encoding": {
     "x": {"field": "x", "type": "quantitative", "scale": {"domain": [-1, 1]}, "axis": {"values": [-1, 0, 1], "labelExpr": "datum.value < 0 ? '-π' : (datum.value > 0 ? 'π' : '0')", "title": "φ", "titleFont": "Liberation Serif", "titleFontStyle": "italic", "titleFontSize": 13, "titlePadding": 8}},
     "y": {"field": "y", "type": "quantitative", "scale": {"domain": [-15, 10]}, "axis": {"values": [-15, -10, -5, 0, 5, 10], "labelExpr": "replace(datum.label, '−', '-')", "title": "E-EF (eV)"}},
     "color": {"field": "s", "type": "nominal", "scale": {"domain": ["1", "2", "3", "4", "5", "6"], "range": ["#a3286a", "#ffa500", "#000000", "#3b4db3", "#3ec83e", "#e01b1b"]}, "legend": null}}},
   {"data": {"name": "dC"}, "mark": {"type": "point", "shape": "diamond", "size": 30, "filled": false, "stroke": "#222", "strokeWidth": 0.8, "clip": true},
    "encoding": {"x": {"field": "x", "type": "quantitative"}, "y": {"field": "y", "type": "quantitative", "axis": null}}},
   {"data": {"name": "cC"}, "mark": {"type": "point", "shape": "circle", "size": 20, "filled": false, "stroke": "#222", "strokeWidth": 0.8, "clip": true},
    "encoding": {"x": {"field": "x", "type": "quantitative"}, "y": {"field": "y", "type": "quantitative", "axis": null}}},
   {"data": {"values": [{}]}, "mark": {"type": "rule", "color": "#000", "strokeWidth": 1}, "encoding": {"x": {"datum": 0}}},
   {"data": {"values": [{}]}, "mark": {"type": "rule", "color": "#000", "strokeWidth": 0.8, "strokeDash": [4, 3]}, "encoding": {"y": {"datum": 0, "axis": null}}},
   {"data": {"values": [{}]}, "mark": {"type": "text", "align": "right", "baseline": "bottom", "dx": -3, "dy": -4}, "encoding": {"x": {"datum": 1}, "y": {"datum": -15, "axis": null}, "text": {"value": "Silicon carbide"}}},
   {"data": {"name": "lC"}, "mark": {"type": "point", "opacity": 0}, "encoding": {"x": {"field": "x", "type": "quantitative"}, "y": {"field": "y", "type": "quantitative", "axis": {"orient": "right", "labels": false, "title": null, "values": [-15, -10, -5, 0, 5, 10]}}}}
  ]},
  {"width": 66, "height": 133, "resolve": {"axis": {"y": "independent"}}, "layer": [
   {"data": {"name": "sC"}, "mark": {"type": "line", "color": "#000", "strokeWidth": 1.3, "clip": true},
    "encoding": {
     "x": {"field": "d", "type": "quantitative", "scale": {"domain": [0, 50]}, "axis": {"values": [25, 50], "title": "DOS (a.u.)", "titleFontSize": 11, "titlePadding": 5}},
     "y": {"field": "e", "type": "quantitative", "scale": {"domain": [-15, 10]}, "axis": {"values": [-15, -10, -5, 0, 5, 10], "labels": false, "title": null}},
     "order": {"field": "e", "type": "quantitative"}}},
   {"data": {"values": [{}]}, "mark": {"type": "rule", "color": "#000", "strokeWidth": 0.8, "strokeDash": [4, 3]}, "encoding": {"y": {"datum": 0, "axis": null}}},
   {"data": {"values": [{}]}, "mark": {"type": "text", "align": "right", "baseline": "top", "dx": -3, "dy": 4}, "encoding": {"x": {"datum": 50}, "y": {"datum": 10, "axis": null}, "text": {"value": "(C)"}}},
   {"data": {"name": "sC"}, "mark": {"type": "point", "opacity": 0}, "encoding": {"x": {"field": "d", "type": "quantitative"}, "y": {"field": "e", "type": "quantitative", "axis": {"orient": "right", "labels": false, "title": null, "values": [-15, -10, -5, 0, 5, 10]}}}}
  ]}
]
}
